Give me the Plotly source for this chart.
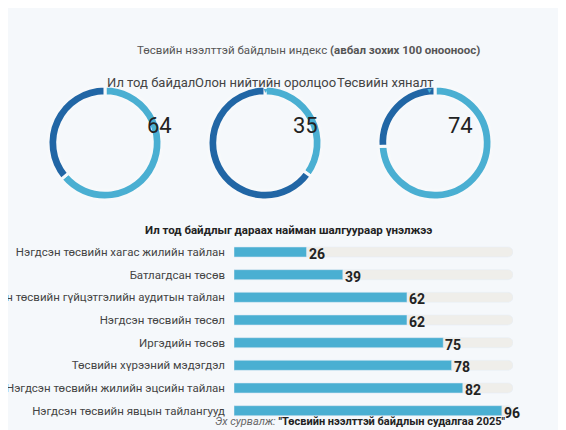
import plotly.graph_objects as go

donut_names = ["Ил тод байдал", "Олон нийтийн оролцоо", "Төсвийн хяналт"]
donut_values = [64, 35, 74]
categories = ["Нэгдсэн төсвийн хагас жилийн тайлан", "Батлагдсан төсөв",
              "Нэгдсэн төсвийн гүйцэтгэлийн аудитын тайлан", "Нэгдсэн төсвийн төсөл",
              "Иргэдийн төсөв", "Төсвийн хүрээний мэдэгдэл",
              "Нэгдсэн төсвийн жилийн эцсийн тайлан", "Нэгдсэн төсвийн явцын тайлангууд"]
bar_values = [26, 39, 62, 62, 75, 78, 82, 96]

W, H = 566, 430
LIGHT, DARK = "#4aafd2", "#2166a5"
fig = go.Figure()
centers = [97, 257, 427]
cy, r = 135, 57
for cx, name, v in zip(centers, donut_names, donut_values):
    fig.add_trace(go.Pie(values=[v, 100 - v], sort=False, direction="clockwise", rotation=0,
                         hole=0.83, marker=dict(colors=[LIGHT, DARK], line=dict(color="#f7f9fb", width=3)),
                         textinfo="none", hoverinfo="skip", showlegend=False,
                         domain=dict(x=[(cx - r) / W, (cx + r) / W], y=[1 - (cy + r) / H, 1 - (cy - r) / H])))
    fig.add_annotation(x=cx / W, y=1 - 65 / H, xref="paper", yref="paper", text=name, showarrow=False,
                       font=dict(size=13, color="#444", family="Roboto"))
    fig.add_annotation(x=cx / W, y=1 - 76 / H, xref="paper", yref="paper", text="▼", showarrow=False,
                       font=dict(size=7, color=LIGHT))
    fig.add_annotation(x=(cx + 40) / W, y=1 - 103 / H, xref="paper", yref="paper", text=str(v), showarrow=False,
                       font=dict(size=22, color="#222", family="Roboto"))

fig.add_trace(go.Bar(y=categories, x=[100] * len(categories), orientation="h", marker=dict(color="#efeeea", cornerradius=5),
                     hoverinfo="skip", showlegend=False, width=0.44))
fig.add_trace(go.Bar(y=categories, x=bar_values, orientation="h", marker=dict(color=LIGHT, cornerradius=5),
                     showlegend=False, width=0.44))
for c, v in zip(categories, bar_values):
    fig.add_annotation(x=v, y=c, xref="x", yref="y", text=f"<b>{v}</b>", showarrow=False, xanchor="left",
                       xshift=0, yshift=-2, font=dict(size=14, color="#222", family="Roboto"))

fig.add_annotation(x=300 / W, y=1 - 33 / H, xref="paper", yref="paper", showarrow=False,
                   text="Төсвийн нээлттэй байдлын индекс <b>(авбал зохих 100 онооноос)</b>",
                   font=dict(size=11.5, color="#555", family="Roboto"))
fig.add_annotation(x=280 / W, y=1 - 222 / H, xref="paper", yref="paper", showarrow=False,
                   text="<b>Ил тод байдлыг дараах найман шалгуураар үнэлжээ</b>",
                   font=dict(size=11.5, color="#222", family="Roboto"))
fig.add_annotation(x=500 / W, y=1 - 422 / H, xref="paper", yref="paper", showarrow=False, xanchor="right",
                   text="<i>Эх сурвалж:</i> <b style='color:#222'>\"Төсвийн нээлттэй байдлын судалгаа 2025\"</b>",
                   font=dict(size=11, color="#666", family="Roboto"))

fig.update_layout(width=W, height=H, margin=dict(l=0, r=0, t=0, b=0, autoexpand=False),
                  paper_bgcolor="#f5f8fb", plot_bgcolor="rgba(0,0,0,0)", barmode="overlay",
                  xaxis=dict(domain=[226 / W, 505 / W], range=[0, 100], visible=False, fixedrange=True),
                  yaxis=dict(domain=[1 - 414 / H, 1 - 232 / H], autorange="reversed", showgrid=False, automargin=False,
                             ticks="", ticklabelstandoff=8, tickfont=dict(size=11.5, color="#444", family="Roboto")))
fig.write_html("out.html")
